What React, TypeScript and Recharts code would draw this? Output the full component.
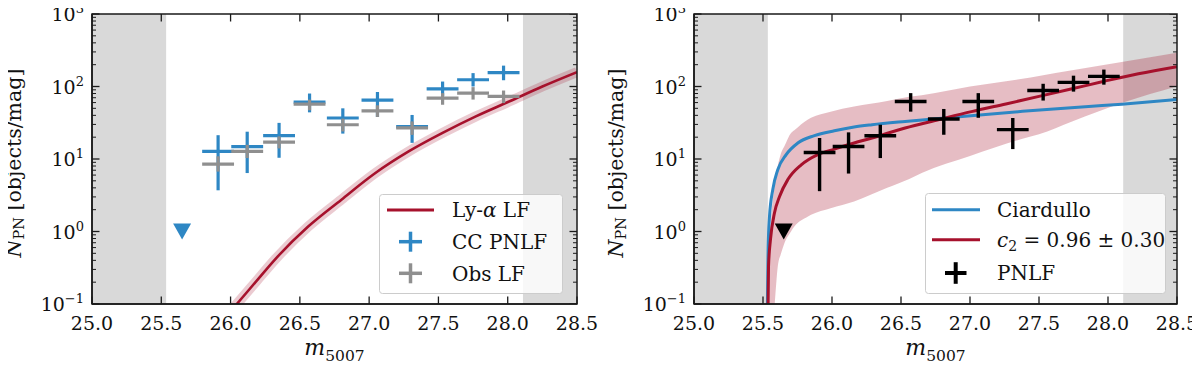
import React from "react";
import {
  ComposedChart,
  Line,
  Area,
  Scatter,
  XAxis,
  YAxis,
  ReferenceArea,
  ErrorBar,
  Label,
} from "recharts";

// ---------- axis ticks ----------
const xTicks = [25.0, 25.5, 26.0, 26.5, 27.0, 27.5, 28.0, 28.5];
const xTickLabels = ["25.0", "25.5", "26.0", "26.5", "27.0", "27.5", "28.0", "28.5"];
const yMajorTicks = [0.1, 1, 10, 100, 1000];
const yMajorExponents = ["\u22121", "0", "1", "2", "3"];
const yMinorTicks = [
  0.2, 0.3, 0.4, 0.5, 0.6, 0.7, 0.8, 0.9,
  2, 3, 4, 5, 6, 7, 8, 9,
  20, 30, 40, 50, 60, 70, 80, 90,
  200, 300, 400, 500, 600, 700, 800, 900,
];
const xDomain = [25, 28.5];
const yDomain = [0.1, 1000];

// ---------- shaded (excluded) magnitude ranges ----------
const shadeLeftRange = [25.0, 25.535];
const shadeRightRange = [28.11, 28.5];

// ---------- binned luminosity functions ----------
const binCenters = [25.91, 26.12, 26.35, 26.57, 26.81, 27.06, 27.31, 27.53, 27.75, 27.97];
const binHalfWidth = 0.115;

// left panel: completeness-corrected PNLF (blue)
const ccPnlf = [12.7, 14.8, 21.0, 61, 36.8, 65, 28.0, 93, 124, 155];
const ccPnlfLow = [3.7, 6.4, 10.4, 44, 22.4, 38, 16.7, 74, 100, 122];
const ccPnlfHigh = [21.3, 23.8, 31.5, 80, 50, 84, 40.5, 117, 153, 194];

// left panel: observed LF (grey)
const obsLf = [8.5, 12.7, 17.1, 57, 29.7, 46, 26.8, 69, 81, 73];
const obsLfLow = [6.7, 10.3, 14.0, 47, 24.0, 38, 21.5, 56, 66, 59];
const obsLfHigh = [10.9, 15.7, 20.5, 66, 36.0, 55, 33.0, 81, 98, 88];

// right panel: PNLF (black)
const pnlf = [12.3, 14.9, 20.9, 62, 35.6, 62, 25.4, 88, 114, 138];
const pnlfLow = [3.6, 6.3, 10.3, 45, 21.6, 37, 13.7, 64, 85, 106];
const pnlfHigh = [19.5, 23.3, 29.7, 81, 49.0, 81, 36.8, 109, 141, 171];

// upper limits (triangles)
const upperLimitM = [25.65];
const upperLimitV = [1.0];

// ---------- curves ----------
// left: Ly-alpha LF
const lyaM = [25.99, 26.045, 26.18, 26.32, 26.56, 26.8, 27.045, 27.285, 27.53, 27.77, 28.01, 28.25, 28.5];
const lyaV = [0.075, 0.1, 0.2, 0.41, 1.17, 2.75, 6.4, 12.7, 22.9, 38.7, 62, 100, 158];

// right: c2 fit (red)
const c2M = [25.53, 25.537, 25.54, 25.554, 25.583, 25.62, 25.68, 25.777, 25.897, 26.017, 26.16, 26.29, 26.53, 26.77, 27.01, 27.26, 27.5, 27.74, 27.98, 28.22, 28.5];
const c2V = [0.03, 0.1, 0.33, 0.77, 1.8, 3.05, 5.2, 8.3, 11.5, 13.7, 16.6, 19.5, 26.8, 34.8, 45, 57.5, 73, 93, 119, 150, 188];

// right: Ciardullo (blue)
const ciaM = [25.527, 25.532, 25.537, 25.547, 25.571, 25.607, 25.668, 25.752, 25.873, 26.017, 26.16, 26.29, 26.53, 26.9, 27.38, 27.86, 28.1, 28.5];
const ciaV = [0.03, 0.1, 0.56, 1.6, 3.8, 7.1, 11.5, 16.6, 21, 24.5, 27.6, 29.7, 33, 38, 45.4, 53, 57, 66];

// right: uncertainty band of c2 fit
const bandM = [25.535, 25.547, 25.583, 25.607, 25.631, 25.655, 25.703, 25.727, 25.823, 25.848, 25.99, 26.16, 26.4, 26.56, 26.65, 27.0, 27.38, 27.5, 27.74, 28.11, 28.5];
const bandHigh = [0.1, 0.56, 4.2, 8, 12.1, 15, 22.9, 25, 34.8, 37, 45, 53, 63, 72, 76, 100, 128, 140, 167, 220, 292];
const bandLow = [0.01, 0.02, 0.09, 0.33, 0.5, 0.69, 1.0, 1.17, 1.6, 1.7, 2.1, 2.6, 4.0, 5.3, 6.4, 11, 19, 22, 33, 60, 101];

// ---------- styles / layout ----------
const FONT = "DejaVu Serif, Liberation Serif, serif";
const INK = "#111111";
const AXIS = "#1a1a1a";
const RED = "#a6112c";
const BLUE = "#2e87c4";
const GREY = "#8f8f8f";
const SHADE = "#d9d9d9";
const CHART_W = 592;
const CHART_H = 360;
const M_TOP = 6;
const M_BOTTOM = 8;
const XAXIS_H = 56;
const PLOT_H = CHART_H - M_TOP - M_BOTTOM - XAXIS_H;

// ---------- tables ----------
const crossTable = (vals: number[], lo: number[], hi: number[]) =>
  binCenters.map((m, i) => ({
    m,
    v: vals[i],
    ex: binHalfWidth,
    ey: [vals[i] - lo[i], hi[i] - vals[i]],
  }));
const ccTable = crossTable(ccPnlf, ccPnlfLow, ccPnlfHigh);
const obsTable = crossTable(obsLf, obsLfLow, obsLfHigh);
const pnTable = crossTable(pnlf, pnlfLow, pnlfHigh);
const limTable = upperLimitM.map((m, i) => ({ m, v: upperLimitV[i] }));
const lineTable = (ms: number[], vs: number[]) => ms.map((m, i) => ({ m, v: vs[i] }));
const lyaTable = lineTable(lyaM, lyaV);
const c2Table = lineTable(c2M, c2V);
const ciaTable = lineTable(ciaM, ciaV);
const bandTable = bandM.map((m, i) => ({ m, band: [bandLow[i], bandHigh[i]] }));
const yAllTicks = [...yMajorTicks, ...yMinorTicks].sort((a, b) => a - b);
const topTickTable = xTicks.map((m) => ({ m, v: yDomain[1] }));
const rightTickTable = yAllTicks.map((v) => ({
  m: xDomain[1],
  v,
  major: yMajorTicks.some((t) => Math.abs(t - v) / t < 1e-6),
}));

// ---------- tick renderers ----------
const XTickBottom = (props: any) => {
  const { x, y, payload } = props;
  const idx = xTicks.findIndex((t) => Math.abs(t - payload.value) < 1e-6);
  return (
    <g>
      <line x1={x} y1={y} x2={x} y2={y - 7.5} stroke={AXIS} strokeWidth={1.3} />
      <text x={x} y={y + 25.5} textAnchor="middle" fontFamily={FONT} fontSize={19} fill={INK}>
        {idx >= 0 ? xTickLabels[idx] : ""}
      </text>
    </g>
  );
};
const YTickLeft = (props: any) => {
  const { x, y, payload } = props;
  const v = payload.value;
  const mi = yMajorTicks.findIndex((t) => Math.abs(t - v) / t < 1e-6);
  const len = mi >= 0 ? 7.5 : 4;
  return (
    <g>
      <line x1={x} y1={y} x2={x + len} y2={y} stroke={AXIS} strokeWidth={mi >= 0 ? 1.3 : 1} />
      {mi >= 0 && (
        <text x={x - 8} y={y + 7} textAnchor="end" fontFamily={FONT} fontSize={19} fill={INK}>
          10
          <tspan fontSize={13} dy={-8}>
            {yMajorExponents[mi]}
          </tspan>
        </text>
      )}
    </g>
  );
};
const TopTickShape = (p: any) => (
  <line x1={p.cx} y1={p.cy} x2={p.cx} y2={p.cy + 7.5} stroke={AXIS} strokeWidth={1.3} />
);
const RightTickShape = (p: any) => {
  const major = p.payload ? p.payload.major : p.major;
  return (
    <line x1={p.cx} y1={p.cy} x2={p.cx - (major ? 7.5 : 4)} y2={p.cy} stroke={AXIS} strokeWidth={major ? 1.3 : 1} />
  );
};

const yLabel = (xCenter: number) => (props: any) => {
  const vb = props.viewBox || { x: 0, y: 0, height: PLOT_H };
  const cx = vb.x + xCenter;
  const cy = vb.y + vb.height / 2 + 4;
  return (
    <text
      x={cx}
      y={cy}
      transform={`rotate(-90, ${cx}, ${cy})`}
      textAnchor="middle"
      dominantBaseline="central"
      fontFamily={FONT}
      fontSize={20.5}
      fill={INK}
    >
      <tspan fontStyle="italic">N</tspan>
      <tspan fontSize={14.5} dy={5}>PN</tspan>
      <tspan dy={-5}> [objects/mag]</tspan>
    </text>
  );
};
const xLabel = (props: any) => {
  const vb = props.viewBox || { x: 0, y: 0, width: 0 };
  const cx = vb.x + vb.width / 2;
  return (
    <text x={cx} y={vb.y + 50.5} textAnchor="middle" fontFamily={FONT} fontSize={22} fill={INK}>
      <tspan fontStyle="italic">m</tspan>
      <tspan fontSize={15.5} dy={6}>5007</tspan>
    </text>
  );
};

const noShape = () => <g />;
const triangle = (color: string) => (p: any) => (
  <polygon points={`${p.cx - 9},${p.cy - 8} ${p.cx + 9},${p.cy - 8} ${p.cx},${p.cy + 8}`} fill={color} />
);

function Panel({ children, left, right, yLabelX }: any) {
  return (
    <ComposedChart width={CHART_W} height={CHART_H} margin={{ top: M_TOP, right, bottom: M_BOTTOM, left: 0 }}>
      <XAxis
        type="number"
        dataKey="m"
        domain={xDomain}
        ticks={xTicks}
        interval={0}
        allowDataOverflow
        height={XAXIS_H}
        tickSize={0}
        tickMargin={0}
        tickLine={false}
        tick={XTickBottom}
        axisLine={{ stroke: AXIS, strokeWidth: 1.5 }}
      >
        <Label content={xLabel} />
      </XAxis>
      <YAxis
        scale="log"
        domain={yDomain}
        ticks={yAllTicks}
        interval={0}
        allowDataOverflow
        width={left}
        tickSize={0}
        tickMargin={0}
        tickLine={false}
        tick={YTickLeft}
        axisLine={{ stroke: AXIS, strokeWidth: 1.5 }}
      >
        <Label content={yLabel(yLabelX)} />
      </YAxis>
      <ReferenceArea x1={shadeLeftRange[0]} x2={shadeLeftRange[1]} fill={SHADE} fillOpacity={1} stroke="none" ifOverflow="hidden" />
      <ReferenceArea x1={shadeRightRange[0]} x2={shadeRightRange[1]} fill={SHADE} fillOpacity={1} stroke="none" ifOverflow="hidden" />
      {children}
      <Scatter data={topTickTable} dataKey="v" shape={TopTickShape} isAnimationActive={false} legendType="none" />
      <Scatter data={rightTickTable} dataKey="v" shape={RightTickShape} isAnimationActive={false} legendType="none" />
    </ComposedChart>
  );
}

// outline of the axes box (plot area border)
function Frame({ left, right }: { left: number; right: number }) {
  const w = CHART_W - left - right;
  return (
    <svg
      width={CHART_W}
      height={CHART_H}
      style={{ position: "absolute", left: 0, top: 0, pointerEvents: "none" }}
    >
      <rect x={left} y={M_TOP} width={w} height={PLOT_H} fill="none" stroke={AXIS} strokeWidth={1.5} />
    </svg>
  );
}

function LeftLegend() {
  return (
    <svg width={185} height={101} style={{ position: "absolute", left: 371, top: 186 }}>
      <rect x={0.5} y={0.5} width={183} height={99} rx={3} fill="#ffffff" fillOpacity={0.8} stroke="#cccccc" />
      <line x1={8} y1={16} x2={55} y2={16} stroke={RED} strokeWidth={3} />
      <line x1={20} y1={47.7} x2={43} y2={47.7} stroke={BLUE} strokeWidth={3.5} />
      <line x1={31.5} y1={37.7} x2={31.5} y2={57.7} stroke={BLUE} strokeWidth={3.5} />
      <line x1={20} y1={79.3} x2={43} y2={79.3} stroke={GREY} strokeWidth={3.5} />
      <line x1={31.5} y1={69.3} x2={31.5} y2={89.3} stroke={GREY} strokeWidth={3.5} />
      <g fontFamily={FONT} fontSize={20} fill={INK}>
        <text x={73} y={23.3}>
          Ly-<tspan fontStyle="italic">α</tspan> LF
        </text>
        <text x={73} y={55}>CC PNLF</text>
        <text x={73} y={86.6}>Obs LF</text>
      </g>
    </svg>
  );
}

function RightLegend() {
  return (
    <svg width={242} height={102} style={{ position: "absolute", left: 325, top: 185 }}>
      <rect x={0.5} y={0.5} width={240} height={100} rx={3} fill="#ffffff" fillOpacity={0.8} stroke="#cccccc" />
      <line x1={7} y1={16.7} x2={55} y2={16.7} stroke={BLUE} strokeWidth={3} />
      <line x1={7} y1={46.7} x2={55} y2={46.7} stroke={RED} strokeWidth={3} />
      <line x1={20} y1={80} x2={41.5} y2={80} stroke="#000" strokeWidth={4} />
      <line x1={30.7} y1={69.2} x2={30.7} y2={90.8} stroke="#000" strokeWidth={4} />
      <g fontFamily={FONT} fontSize={20} fill={INK}>
        <text x={72} y={24}>Ciardullo</text>
        <text x={72} y={54}>
          <tspan fontStyle="italic">c</tspan>
          <tspan fontSize={14} dy={4}>2</tspan>
          <tspan dy={-4}> = 0.96 ± 0.30</tspan>
        </text>
        <text x={72} y={87.3}>PNLF</text>
      </g>
    </svg>
  );
}

export default function App() {
  return (
    <div style={{ display: "flex", width: 1184, height: 360 }}>
      <div style={{ position: "relative", width: CHART_W, height: CHART_H }}>
        <Panel left={84} right={23} yLabelX={6}>
          <Line data={lyaTable} dataKey="v" type="monotone" stroke={RED} strokeOpacity={0.22} strokeWidth={10} dot={false} isAnimationActive={false} legendType="none" />
          <Line data={lyaTable} dataKey="v" type="monotone" stroke={RED} strokeWidth={2.6} dot={false} isAnimationActive={false} />
          <Scatter data={ccTable} dataKey="v" shape={noShape} isAnimationActive={false}>
            <ErrorBar dataKey="ey" direction="y" width={0} stroke={BLUE} strokeWidth={3.2} />
            <ErrorBar dataKey="ex" direction="x" width={0} stroke={BLUE} strokeWidth={3.2} />
          </Scatter>
          <Scatter data={obsTable} dataKey="v" shape={noShape} isAnimationActive={false}>
            <ErrorBar dataKey="ey" direction="y" width={0} stroke={GREY} strokeWidth={3.2} />
            <ErrorBar dataKey="ex" direction="x" width={0} stroke={GREY} strokeWidth={3.2} />
          </Scatter>
          <Scatter data={limTable} dataKey="v" shape={triangle(BLUE)} isAnimationActive={false} />
        </Panel>
        <Frame left={84} right={23} />
        <LeftLegend />
      </div>
      <div style={{ position: "relative", width: CHART_W, height: CHART_H }}>
        <Panel left={94} right={15} yLabelX={16}>
          <Area data={bandTable} dataKey="band" type="monotone" stroke="none" fill={RED} fillOpacity={0.28} isAnimationActive={false} />
          <Line data={ciaTable} dataKey="v" type="monotone" stroke={BLUE} strokeWidth={3} dot={false} isAnimationActive={false} />
          <Line data={c2Table} dataKey="v" type="monotone" stroke={RED} strokeWidth={3} dot={false} isAnimationActive={false} />
          <Scatter data={pnTable} dataKey="v" shape={noShape} isAnimationActive={false}>
            <ErrorBar dataKey="ey" direction="y" width={0} stroke="#000" strokeWidth={3.4} />
            <ErrorBar dataKey="ex" direction="x" width={0} stroke="#000" strokeWidth={3.4} />
          </Scatter>
          <Scatter data={limTable} dataKey="v" shape={triangle("#000")} isAnimationActive={false} />
        </Panel>
        <Frame left={94} right={15} />
        <RightLegend />
      </div>
    </div>
  );
}
